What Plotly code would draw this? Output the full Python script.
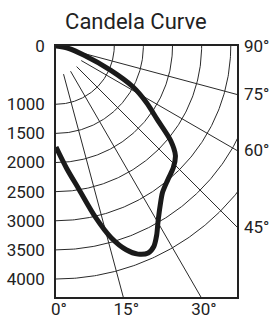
import numpy as np
import plotly.graph_objects as go

# ---- data ----
angles_deg = [0, 5, 9, 13, 16, 19, 21.5, 24, 26, 28, 30, 33, 36, 40, 44, 47.5,
              50.5, 54, 58, 62, 66, 72, 80, 90]
candela = [1734, 2110, 2480, 3020, 3420, 3700, 3840, 3890, 3830, 3680, 3500,
           3280, 3110, 2990, 2900, 2780, 2550, 2150, 1830, 1500, 1030, 500, 200, 0]

ring_values = [1000, 1500, 2000, 2500, 3000, 3500, 4000]
spoke_angles = [15, 30, 45, 60, 75]
spoke_start = 500
y_tick_values = [0, 1000, 1500, 2000, 2500, 3000, 3500, 4000]
bottom_angle_labels = [0, 15, 30]
right_angle_labels = [90, 75, 60, 45]

X_MAX = 3107
Y_MAX = 4309

INK = "#222222"
GRID = "#2a2a2a"
FONT = "Roboto"


def polar_to_xy(r, deg):
    t = np.radians(np.asarray(deg, dtype=float))
    r = np.asarray(r, dtype=float)
    return r * np.sin(t), r * np.cos(t)


fig = go.Figure()

# rings
rx, ry = [], []
arc = np.linspace(0, 90, 181)
for r in ring_values:
    x, y = polar_to_xy(np.full_like(arc, r), arc)
    rx += list(x) + [None]
    ry += list(y) + [None]
fig.add_trace(go.Scatter(x=rx, y=ry, mode="lines",
                         line=dict(color=GRID, width=1), hoverinfo="skip",
                         showlegend=False))

# spokes
sx, sy = [], []
for a in spoke_angles:
    x, y = polar_to_xy([spoke_start, 8000], [a, a])
    sx += list(x) + [None]
    sy += list(y) + [None]
fig.add_trace(go.Scatter(x=sx, y=sy, mode="lines",
                         line=dict(color=GRID, width=1), hoverinfo="skip",
                         showlegend=False))

# candela curve
cx, cy = polar_to_xy(candela, angles_deg)
fig.add_trace(go.Scatter(x=cx, y=cy, mode="lines",
                         line=dict(color="#1a1a1a", width=5, shape="spline",
                                   smoothing=0.8),
                         hoverinfo="skip", showlegend=False))

# invisible trace for the right axis
fig.add_trace(go.Scatter(x=[0], y=[0], yaxis="y2", mode="markers",
                         marker=dict(opacity=0), hoverinfo="skip",
                         showlegend=False))

bottom_vals = [Y_MAX * np.tan(np.radians(a)) for a in bottom_angle_labels]
right_vals = [X_MAX / np.tan(np.radians(a)) if a < 90 else 0 for a in right_angle_labels]

fig.update_layout(
    width=269, height=320, autosize=False,
    margin=dict(l=56, r=32, t=46, b=23, pad=0),
    paper_bgcolor="white", plot_bgcolor="white",
    font=dict(family=FONT, size=17, color=INK),
    title=dict(text="Candela Curve", x=0.505, xref="container", xanchor="center",
               y=0.935, yref="container", yanchor="middle",
               font=dict(family=FONT, size=22, color=INK)),
    xaxis=dict(range=[0, X_MAX], showgrid=False, zeroline=False,
               showline=True, mirror=True, linecolor=INK, linewidth=1.5,
               tickvals=bottom_vals, automargin=False,
               ticktext=[f"{a}°" for a in bottom_angle_labels],
               ticks="", ticklabelstandoff=-4, ticklabelshift=3),
    yaxis=dict(range=[Y_MAX, 0], showgrid=False, zeroline=False,
               showline=True, mirror=True, linecolor=INK, linewidth=1.5,
               tickvals=y_tick_values, automargin=False,
               ticktext=[str(v) for v in y_tick_values],
               ticks="", ticklabelstandoff=6),
    yaxis2=dict(range=[Y_MAX, 0], overlaying="y", side="right",
                showgrid=False, zeroline=False, showline=False,
                tickvals=right_vals, automargin=False,
                ticktext=[f"{a}°" for a in right_angle_labels],
                ticks="", ticklabelstandoff=6),
)

fig.write_html("out.html", config={"displayModeBar": False},
               post_script="document.body.style.margin='0';document.body.style.padding='0';")
